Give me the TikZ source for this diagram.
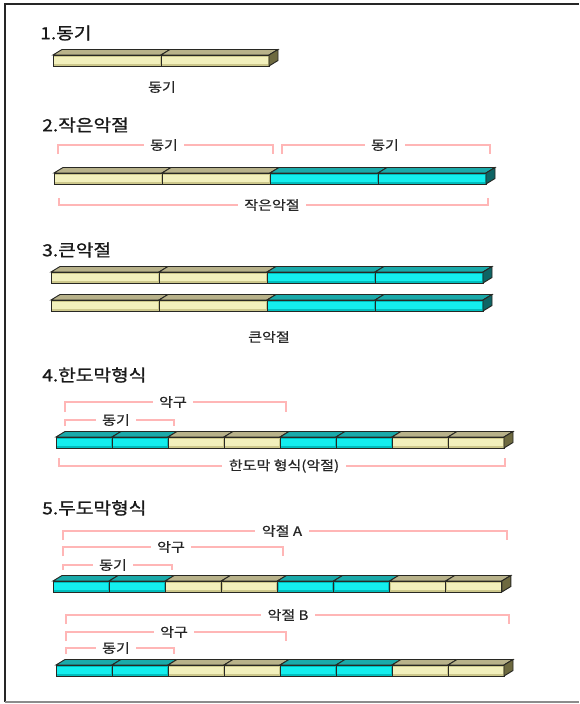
\documentclass[tikz,border=0pt]{standalone}
\usepackage{fontspec}
\newfontfamily\kr[FakeStretch=1.15,FakeBold=0.6]{Noto Sans CJK KR}
\newfontfamily\krt[FakeStretch=1.15,FakeBold=1.1]{Noto Sans CJK KR}
\definecolor{tF}{RGB}{242,240,188}
\definecolor{tR}{RGB}{205,200,140}
\definecolor{tT}{RGB}{184,178,138}
\definecolor{tS}{RGB}{110,106,64}
\definecolor{cF}{RGB}{20,238,238}
\definecolor{cR}{RGB}{0,190,190}
\definecolor{cT}{RGB}{26,170,170}
\definecolor{cS}{RGB}{14,100,100}
\definecolor{edge}{RGB}{40,40,35}
\definecolor{pinkline}{RGB}{255,182,182}
% #1 x left, #2 y front top, #3 segment width, #4 number of segments, #5 colour list, #6 last colour
\newcommand\drawbar[6]{%
  \foreach \sc [count=\i from 0] in {#5} {
    \pgfmathsetmacro\xa{#1+\i*#3}
    \pgfmathsetmacro\xb{#1+(\i+1)*#3}
    \filldraw[fill=\sc T, draw=edge, line width=0.7pt] (\xa,#2) -- (\xa+9,#2-5.5) -- (\xb+9,#2-5.5) -- (\xb,#2) -- cycle;
    \fill[fill=\sc R] (\xa,#2) rectangle (\xb,#2+11);
    \fill[fill=\sc F] (\xa+1.2,#2+1.6) rectangle (\xb-1.2,#2+9);
    \draw[draw=edge, line width=0.7pt] (\xa,#2) rectangle (\xb,#2+11);
  }
  \pgfmathsetmacro\xe{#1+#3*#4}
  \filldraw[fill=#6S, draw=edge, line width=0.7pt] (\xe,#2) -- (\xe+9,#2-5.5) -- (\xe+9,#2+5.5) -- (\xe,#2+11) -- cycle;
}
\newcommand\mybracket[7]{%
  \draw[brline] (#1,#3+#4) -- (#1,#3) -- (#2,#3) -- (#2,#3+#4);
  \node[lbl, fill=white, inner xsep=5pt, inner ysep=1pt] (#7) at (#5,#3) {#6};
}
\tikzset{
  brline/.style={draw=pinkline, line width=0.8pt},
  lbl/.style={font=\kr\fontsize{9.8pt}{10pt}\selectfont, text=black!85},
  ttl/.style={font=\krt\fontsize{12.5pt}{13pt}\selectfont, text=black!90, anchor=west, inner sep=0pt}
}
\begin{document}
\begin{tikzpicture}[x=0.75pt,y=-0.75pt]
\useasboundingbox (0,0) rectangle (579,704);
\fill[white] (0,0) rectangle (579,704);
% frame
\draw[black!85, line width=1.2pt] (5,702) -- (5,4) -- (579,4);
\draw[black!45, line width=1.2pt] (5,702) -- (579,702);

% 1
\node[ttl] (t1) at (40,33) {1.동기};
\drawbar{53}{55}{108}{2}{t,t}{t}
\node[lbl] (l1) at (162,87) {동기};

% 2
\node[ttl] (t2) at (42,125) {2.작은악절};
\mybracket{58}{273}{145}{9}{164}{동기}{l2a}
\mybracket{282}{490}{145}{9}{385}{동기}{l2b}
\drawbar{54}{173}{108}{4}{t,t,c,c}{c}
\mybracket{59}{488}{205}{-7}{272}{작은악절}{l2c}

% 3
\node[ttl] (t3) at (42,250) {3.큰악절};
\drawbar{51}{272}{108}{4}{t,t,c,c}{c}
\drawbar{51}{300}{108}{4}{t,t,c,c}{c}
\node[lbl] (l3) at (269,337) {큰악절};

% 4
\node[ttl] (t4) at (42,375) {4.한도막형식};
\mybracket{65}{286}{402}{10}{173}{악구}{l4a}
\mybracket{65}{174}{420}{6}{116}{동기}{l4b}
\drawbar{56}{437}{56}{8}{c,c,t,t,c,c,t,t}{t}
\mybracket{59}{505}{466}{-8}{284}{한도막 형식(악절)}{l4c}

% 5
\node[ttl] (t5) at (42,508) {5.두도막형식};
\mybracket{63}{507}{531}{9}{282}{악절 A}{l5a}
\mybracket{63}{283}{547}{9}{171}{악구}{l5b}
\mybracket{63}{172}{565}{5}{113}{동기}{l5c}
\drawbar{53}{581}{56.1}{8}{c,c,t,t,c,c,t,t}{t}
\mybracket{66}{509}{615}{9}{288}{악절 B}{l5d}
\mybracket{66}{286}{632}{9}{174}{악구}{l5e}
\mybracket{66}{174}{648}{6}{116}{동기}{l5f}
\drawbar{56}{665}{56}{8}{c,c,t,t,c,c,t,t}{t}
\end{tikzpicture}
\end{document}
